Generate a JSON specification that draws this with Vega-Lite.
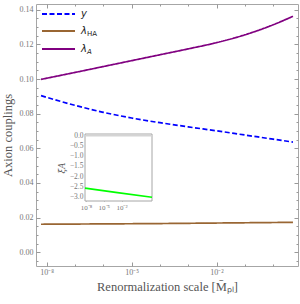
{
  "$schema": "https://vega.github.io/schema/vega-lite/v6.json",
  "width": 262,
  "height": 262,
  "autosize": {"type": "none"},
  "padding": {"left": 36, "top": 4, "right": 2, "bottom": 38},
  "background": "white",
  "config": {
    "view": {"stroke": "#a6a6a6", "strokeWidth": 1},
    "axis": {"grid": false, "domain": false, "labelOverlap": false, "tickColor": "#999999", "labelFont": "Liberation Serif", "labelColor": "#777777", "titleFont": "Liberation Serif", "titleColor": "#555555", "titleFontWeight": "normal"}
  },
  "datasets": {
    "couplings": [
      {"coupling": "y", "scale": 6.31e-9, "value": 0.0904},
      {"coupling": "y", "scale": 1e-7, "value": 0.0848},
      {"coupling": "y", "scale": 1e-6, "value": 0.0808},
      {"coupling": "y", "scale": 1e-5, "value": 0.0775},
      {"coupling": "y", "scale": 1e-4, "value": 0.0748},
      {"coupling": "y", "scale": 1e-3, "value": 0.0724},
      {"coupling": "y", "scale": 1e-2, "value": 0.0701},
      {"coupling": "y", "scale": 0.1, "value": 0.0677},
      {"coupling": "y", "scale": 1, "value": 0.0653},
      {"coupling": "y", "scale": 5.013, "value": 0.0636},
      {"coupling": "λHA", "scale": 6.31e-9, "value": 0.0162},
      {"coupling": "λHA", "scale": 1e-6, "value": 0.0164},
      {"coupling": "λHA", "scale": 1e-4, "value": 0.0166},
      {"coupling": "λHA", "scale": 1e-2, "value": 0.0169},
      {"coupling": "λHA", "scale": 5.013, "value": 0.0173},
      {"coupling": "λA", "scale": 6.31e-9, "value": 0.0998},
      {"coupling": "λA", "scale": 1e-7, "value": 0.1038},
      {"coupling": "λA", "scale": 1e-6, "value": 0.1072},
      {"coupling": "λA", "scale": 1e-5, "value": 0.1106},
      {"coupling": "λA", "scale": 1e-4, "value": 0.114},
      {"coupling": "λA", "scale": 1e-3, "value": 0.1174},
      {"coupling": "λA", "scale": 1e-2, "value": 0.121},
      {"coupling": "λA", "scale": 0.1, "value": 0.1255},
      {"coupling": "λA", "scale": 1, "value": 0.1313},
      {"coupling": "λA", "scale": 5.013, "value": 0.1362}
    ],
    "xi": [
      {"scale": 6.76e-9, "xiA": -2.6},
      {"scale": 1e-3, "xiA": -2.805},
      {"scale": 1413, "xiA": -3.05}
    ]
  },
  "layer": [
    {
      "layer": [
        {
          "data": {"name": "couplings"},
          "mark": {"type": "line", "strokeWidth": 1.7, "clip": true, "interpolate": "monotone"},
          "encoding": {
            "x": {"field": "scale", "type": "quantitative", "axis": null,
              "scale": {"type": "log", "domain": [4.188e-9, 7.551], "nice": false}},
            "y": {"field": "value", "type": "quantitative", "axis": null,
              "scale": {"domain": [-0.0079, 0.1433], "nice": false, "zero": false}},
            "color": {"field": "coupling", "type": "nominal", "legend": null,
              "scale": {"domain": ["y", "λHA", "λA"], "range": ["#0000ff", "#996633", "#800080"]}},
            "strokeDash": {"field": "coupling", "type": "nominal", "legend": null,
              "scale": {"domain": ["y", "λHA", "λA"], "range": [[5, 2.5], [1, 0], [1, 0]]}}
          }
        },
        {
          "data": {"values": [{}]},
          "mark": {"type": "rule", "color": "#0000ff", "strokeWidth": 2, "strokeDash": [5, 2.5]},
          "encoding": {"x": {"datum": 6.82e-9, "type": "quantitative", "axis": null}, "x2": {"datum": 1e-7}, "y": {"datum": 0.1375, "type": "quantitative", "axis": null}}
        },
        {
          "data": {"values": [{}]},
          "mark": {"type": "rule", "color": "#996633", "strokeWidth": 2},
          "encoding": {"x": {"datum": 6.82e-9, "type": "quantitative", "axis": null}, "x2": {"datum": 1e-7}, "y": {"datum": 0.1277, "type": "quantitative", "axis": null}}
        },
        {
          "data": {"values": [{}]},
          "mark": {"type": "rule", "color": "#800080", "strokeWidth": 2},
          "encoding": {"x": {"datum": 6.82e-9, "type": "quantitative", "axis": null}, "x2": {"datum": 1e-7}, "y": {"datum": 0.1173, "type": "quantitative", "axis": null}}
        },
        {
          "data": {"values": [{"label": "y"}]},
          "mark": {"type": "text", "align": "left", "baseline": "middle", "font": "DejaVu Sans", "fontSize": 10, "fontStyle": "italic", "color": "#222222"},
          "encoding": {"x": {"datum": 1.63e-7, "type": "quantitative", "axis": null}, "y": {"datum": 0.1375, "type": "quantitative", "axis": null}, "text": {"field": "label"}}
        },
        {
          "data": {"values": [{"label": "λ"}]},
          "mark": {"type": "text", "align": "left", "baseline": "middle", "font": "DejaVu Sans", "fontSize": 10, "fontStyle": "italic", "color": "#222222"},
          "encoding": {"x": {"datum": 1.63e-7, "type": "quantitative", "axis": null}, "y": {"datum": 0.1277, "type": "quantitative", "axis": null}, "text": {"field": "label"}}
        },
        {
          "data": {"values": [{"label": "HA"}]},
          "mark": {"type": "text", "align": "left", "baseline": "middle", "font": "DejaVu Sans", "fontSize": 7, "dx": 6, "dy": 3, "color": "#222222"},
          "encoding": {"x": {"datum": 1.63e-7, "type": "quantitative", "axis": null}, "y": {"datum": 0.1277, "type": "quantitative", "axis": null}, "text": {"field": "label"}}
        },
        {
          "data": {"values": [{"label": "λ"}]},
          "mark": {"type": "text", "align": "left", "baseline": "middle", "font": "DejaVu Sans", "fontSize": 10, "fontStyle": "italic", "color": "#222222"},
          "encoding": {"x": {"datum": 1.63e-7, "type": "quantitative", "axis": null}, "y": {"datum": 0.1173, "type": "quantitative", "axis": null}, "text": {"field": "label"}}
        },
        {
          "data": {"values": [{"label": "A"}]},
          "mark": {"type": "text", "align": "left", "baseline": "middle", "font": "DejaVu Sans", "fontSize": 7, "fontStyle": "italic", "dx": 6, "dy": 3, "color": "#222222"},
          "encoding": {"x": {"datum": 1.63e-7, "type": "quantitative", "axis": null}, "y": {"datum": 0.1173, "type": "quantitative", "axis": null}, "text": {"field": "label"}}
        }
      ]
    },
    {
      "data": {"name": "couplings"},
      "mark": {"type": "point", "opacity": 0},
      "encoding": {
        "x": {"field": "scale", "type": "quantitative",
          "scale": {"type": "log", "domain": [4.188e-9, 7.551], "nice": false},
          "axis": {"orient": "bottom", "offset": -4, "tickSize": 4, "labelPadding": 2, "values": [1e-8, 1e-5, 1e-2],
            "labelExpr": "datum.value < 1e-6 ? '10⁻⁸' : datum.value < 1e-3 ? '10⁻⁵' : '10⁻²'",
            "labelFontSize": 8, "title": "Renormalization scale [M̄ₚₗ]", "titleFontSize": 12.5, "titlePadding": 4}},
        "y": {"field": "value", "type": "quantitative",
          "scale": {"domain": [-0.0079, 0.1433], "nice": false, "zero": false},
          "axis": {"orient": "left", "offset": -4, "tickSize": 4, "labelPadding": 3, "values": [0, 0.02, 0.04, 0.06, 0.08, 0.1, 0.12, 0.14], "format": ".2f",
            "labelFontSize": 8, "title": "Axion couplings", "titleFontSize": 12.5, "titlePadding": 5}}
      }
    },
    {
      "data": {"name": "couplings"},
      "mark": {"type": "point", "opacity": 0},
      "encoding": {
        "x": {"field": "scale", "type": "quantitative",
          "scale": {"type": "log", "domain": [4.188e-9, 7.551], "nice": false},
          "axis": {"orient": "top", "offset": -4, "tickSize": 4, "labels": false, "values": [1e-8, 1e-5, 1e-2], "title": null}},
        "y": {"field": "value", "type": "quantitative",
          "scale": {"domain": [-0.0079, 0.1433], "nice": false, "zero": false},
          "axis": {"orient": "right", "offset": -4, "tickSize": 4, "labels": false, "values": [0, 0.02, 0.04, 0.06, 0.08, 0.1, 0.12, 0.14], "title": null}}
      }
    },
    {
      "data": {"name": "couplings"},
      "mark": {"type": "point", "opacity": 0},
      "encoding": {
        "x": {"field": "scale", "type": "quantitative",
          "scale": {"type": "log", "domain": [4.188e-9, 7.551], "nice": false},
          "axis": {"orient": "bottom", "offset": -2, "tickSize": 2, "labels": false, "values": [1e-7, 1e-6, 1e-4, 1e-3, 0.1, 1], "title": null}},
        "y": {"field": "value", "type": "quantitative",
          "scale": {"domain": [-0.0079, 0.1433], "nice": false, "zero": false},
          "axis": {"orient": "left", "offset": -2, "tickSize": 2, "labels": false, "values": [-0.005, 0.005, 0.01, 0.015, 0.025, 0.03, 0.035, 0.045, 0.05, 0.055, 0.065, 0.07, 0.075, 0.085, 0.09, 0.095, 0.105, 0.11, 0.115, 0.125, 0.13, 0.135], "title": null}}
      }
    },
    {
      "data": {"name": "couplings"},
      "mark": {"type": "point", "opacity": 0},
      "encoding": {
        "x": {"field": "scale", "type": "quantitative",
          "scale": {"type": "log", "domain": [4.188e-9, 7.551], "nice": false},
          "axis": {"orient": "top", "offset": -2, "tickSize": 2, "labels": false, "values": [1e-7, 1e-6, 1e-4, 1e-3, 0.1, 1], "title": null}},
        "y": {"field": "value", "type": "quantitative",
          "scale": {"domain": [-0.0079, 0.1433], "nice": false, "zero": false},
          "axis": {"orient": "right", "offset": -2, "tickSize": 2, "labels": false, "values": [-0.005, 0.005, 0.01, 0.015, 0.025, 0.03, 0.035, 0.045, 0.05, 0.055, 0.065, 0.07, 0.075, 0.085, 0.09, 0.095, 0.105, 0.11, 0.115, 0.125, 0.13, 0.135], "title": null}}
      }
    },
    {
      "layer": [
        {
          "data": {"values": [{}]},
          "mark": {"type": "rect", "fill": "white", "stroke": "#a6a6a6", "strokeWidth": 1},
          "encoding": {
            "x": {"datum": 6.76e-9, "type": "quantitative", "scale": {"type": "log", "domain": [6.76e-9, 1413], "range": [49, 116], "nice": false}},
            "x2": {"datum": 1413},
            "y": {"datum": -3.235, "type": "quantitative", "scale": {"domain": [-3.235, 0.084], "range": [197, 130], "nice": false, "zero": false}},
            "y2": {"datum": 0.084}
          }
        },
        {
          "data": {"values": [{}]},
          "mark": {"type": "rule", "color": "#d4d4d4", "strokeWidth": 1.5},
          "encoding": {
            "x": {"datum": 6.76e-9, "type": "quantitative", "scale": {"type": "log", "domain": [6.76e-9, 1413], "range": [49, 116], "nice": false}},
            "x2": {"datum": 1413},
            "y": {"datum": 0, "type": "quantitative", "scale": {"domain": [-3.235, 0.084], "range": [197, 130], "nice": false, "zero": false}}
          }
        },
        {
          "data": {"name": "xi"},
          "mark": {"type": "line", "color": "#00ff00", "strokeWidth": 1.7},
          "encoding": {
            "x": {"field": "scale", "type": "quantitative",
              "scale": {"type": "log", "domain": [6.76e-9, 1413], "range": [49, 116], "nice": false},
              "axis": {"orient": "bottom", "offset": -68, "tickSize": 3, "labelPadding": 2, "values": [1e-8, 1e-5, 1e-2],
                "labelExpr": "datum.value < 1e-6 ? '10⁻⁸' : datum.value < 1e-3 ? '10⁻⁵' : '10⁻²'",
                "labelFontSize": 7, "title": null}},
            "y": {"field": "xiA", "type": "quantitative",
              "scale": {"domain": [-3.235, 0.084], "range": [197, 130], "nice": false, "zero": false},
              "axis": {"orient": "left", "offset": -52, "tickSize": 3, "labelPadding": 2, "values": [0, -0.5, -1, -1.5, -2, -2.5, -3], "format": ".1f",
                "labelFontSize": 7.5, "title": "ξA", "titleFont": "DejaVu Serif", "titleFontStyle": "italic", "titleFontSize": 8.5, "titleColor": "#555555", "titlePadding": 3}}
          }
        }
      ]
    }
  ],
  "resolve": {"scale": {"x": "independent", "y": "independent"}}
}
